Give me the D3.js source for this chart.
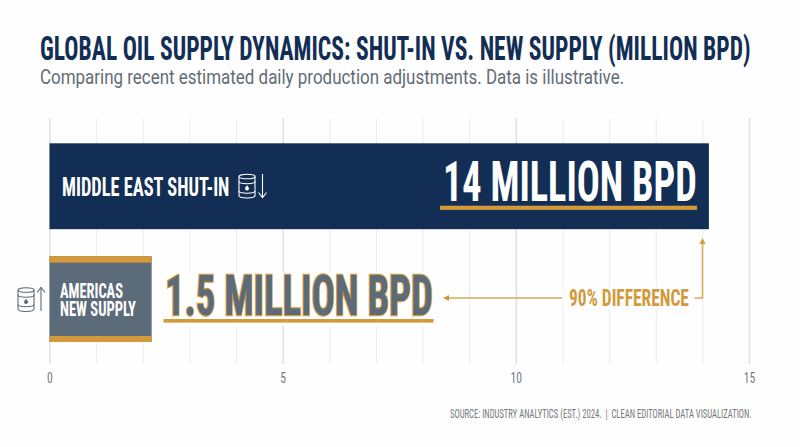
<!DOCTYPE html>
<html><head><meta charset="utf-8">
<script src="https://cdn.jsdelivr.net/npm/d3@7/dist/d3.min.js"></script>
<style>html,body{margin:0;padding:0;background:#fefefe}svg{display:block}
text{white-space:pre}
.c{font-family:"Liberation Sans Narrow","Roboto Condensed","Liberation Sans",sans-serif;font-weight:700}
.n{font-family:"Liberation Sans Narrow","Roboto Condensed","Liberation Sans",sans-serif;font-weight:400}
.sub{font-family:Roboto,sans-serif;font-weight:400}
</style></head><body><div id="chart"></div>
<script>
const categories = ["Middle East Shut-In", "Americas New Supply"];
const barLengths = [14.14, 2.19];
const valueLabels = ["14 MILLION BPD", "1.5 MILLION BPD"];
const axisTicks = [0, 5, 10, 15];
const gridTicks = [0,1,2,3,4,5,6,7,8,9,10,11,12,13,14,15];
const NAVY="#122e54", SLATE="#5c6b7a", GOLD="#d39a3b", SOFT_GOLD="#d9a855";

const svg=d3.select("#chart").append("svg").attr("width",800).attr("height",447);
svg.append("rect").attr("width",800).attr("height",447).attr("fill","#fefefe");
const x=d3.scaleLinear().domain([0,15]).range([49.5,749]);
const y=d3.scaleBand().domain(categories).range([143.3,342]).paddingInner(27/113);

function fit(str,x0,x1,base,size,fill,cls){
  const t=svg.append("text").attr("class",cls||"c").attr("font-size",size).attr("fill",fill).text(str);
  const sx=(x1-x0)/t.node().getComputedTextLength();
  t.attr("transform",`translate(${x0},${base}) scale(${sx},1)`);
  return t;
}
// grid
const grid=svg.append("g").attr("transform","translate(0,364)")
  .call(d3.axisBottom(x).tickValues(gridTicks).tickSize(-246).tickFormat(""));
grid.select(".domain").remove();
grid.selectAll("line").attr("stroke",d=>d%5===0?"#dddee0":"#ebecee").attr("stroke-width",d=>d%5===0?1.4:1);
// axis labels
const ax=svg.append("g").attr("transform","translate(0,364)")
  .call(d3.axisBottom(x).tickValues(axisTicks).tickSize(0).tickFormat(d3.format("d")));
ax.select(".domain").remove();
ax.selectAll("text").attr("class","n").attr("font-size",15).attr("fill","#75797d")
  .attr("y",0).attr("dy",0)
  .attr("transform","translate(0,19) scale(0.78,1)");

// title
fit("GLOBAL OIL SUPPLY DYNAMICS: SHUT-IN VS. NEW SUPPLY (MILLION BPD)",40,751,59.5,33,NAVY);
fit("Comparing recent estimated daily production adjustments. Data is illustrative.",40,624.5,84,20,"#626c75","sub");

// bars
svg.selectAll("rect.bar").data(categories).join("rect").attr("class","bar")
  .attr("x",x(0)).attr("y",d=>y(d)).attr("height",y.bandwidth())
  .attr("width",(d,i)=>x(barLengths[i])-x(0)).attr("fill",(d,i)=>i?SLATE:NAVY);
const by=y(categories[1]), bh=y.bandwidth(), bw=x(barLengths[1])-x(0);
svg.append("rect").attr("x",x(0)).attr("y",by).attr("width",bw).attr("height",6.5).attr("fill",GOLD);
svg.append("rect").attr("x",x(0)).attr("y",by+bh-6).attr("width",bw).attr("height",6).attr("fill",GOLD);

// bar labels
fit("MIDDLE EAST SHUT-IN",62,229.5,195.5,26,"#fff");
fit("AMERICAS",60,123,297.6,21,"#fff");
fit("NEW SUPPLY",60,136,316,21,"#fff");

// value labels
fit(valueLabels[0],443,697,201,55,"#fff");
svg.append("rect").attr("x",440).attr("y",205.7).attr("width",257).attr("height",4.2).attr("fill",GOLD);
svg.append("rect").attr("x",160).attr("y",272).attr("width",278).attr("height",54).attr("fill","#fefefe");
fit(valueLabels[1],165,433,315,55,SLATE).attr("stroke",GOLD).attr("stroke-width",2.4).attr("paint-order","stroke");
svg.append("rect").attr("x",163.5).attr("y",319).attr("width",270).attr("height",3.6).attr("fill",GOLD);

// annotation
svg.append("rect").attr("x",563).attr("y",287).attr("width",131).attr("height",22).attr("fill","#fefefe");
fit("90% DIFFERENCE",569,689,306,23.5,GOLD);
const ann=svg.append("g").attr("fill","none").attr("stroke",SOFT_GOLD).attr("stroke-width",1.5);
ann.append("path").attr("d","M562 298H448");
ann.append("path").attr("d","M694.5 298H702.5V243");
svg.append("path").attr("d","M443 298L449 295V301Z").attr("fill",GOLD);
svg.append("path").attr("d","M702.5 238L699.5 244H705.5Z").attr("fill",GOLD);

// barrel icon
function barrel(tx,ty,col,arrowX,up){
  const g=svg.append("g").attr("transform",`translate(${tx},${ty})`).attr("fill","none").attr("stroke",col).attr("stroke-width",1.1);
  g.append("ellipse").attr("cx",8).attr("cy",2.5).attr("rx",8).attr("ry",2.3);
  g.append("path").attr("d","M0 2.5V21.5C0 23 3.5 24 8 24S16 23 16 21.5V2.5");
  g.append("path").attr("d","M0 7.5C0 9 3.5 9.7 8 9.7S16 9 16 7.5");
  g.append("path").attr("d","M0 17C0 18.5 3.5 19.2 8 19.2S16 18.5 16 17");
  g.append("path").attr("d","M8 11.2C6.6 13 6 13.8 6 14.6A2 2 0 0 0 10 14.6C10 13.8 9.4 13 8 11.2Z").attr("fill",col).attr("stroke","none");
  const a=svg.append("g").attr("fill","none").attr("stroke",col).attr("stroke-width",1.1);
  const t=ty, b=ty+23.5;
  a.append("path").attr("d",`M${arrowX} ${t}V${b}`);
  a.append("path").attr("d",up?`M${arrowX-4} ${t+5}L${arrowX} ${t}L${arrowX+4} ${t+5}`:`M${arrowX-4} ${b-5}L${arrowX} ${b}L${arrowX+4} ${b-5}`);
}
barrel(239,174,"#fff",262.5,false);
barrel(18,287.5,SLATE,41,true);

// source
fit("SOURCE: INDUSTRY ANALYTICS (EST.) 2024.  |  CLEAN EDITORIAL DATA VISUALIZATION.",450,752,418,13,"#75797d","n");
</script></body></html>
